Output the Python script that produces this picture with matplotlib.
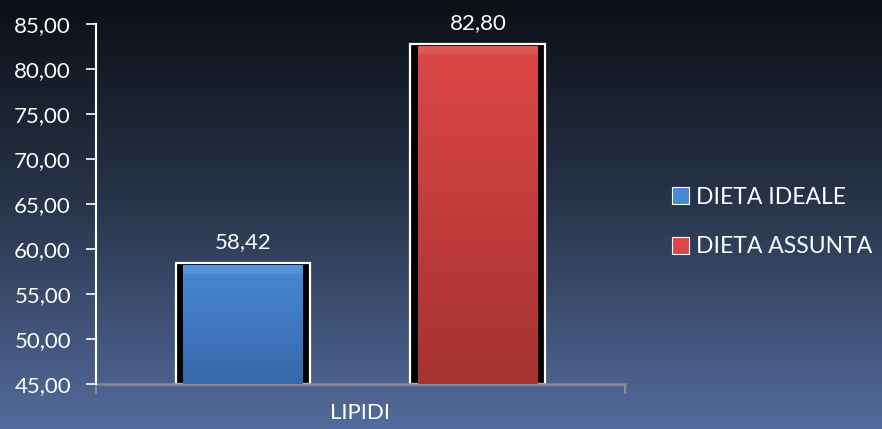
import numpy as np
import matplotlib
matplotlib.use("Agg")
import matplotlib.pyplot as plt
from matplotlib.colors import LinearSegmentedColormap

# data
category = "LIPIDI"
series = ["DIETA IDEALE", "DIETA ASSUNTA"]
values = [58.42, 82.80]
value_labels = ["58,42", "82,80"]
yticks = [45, 50, 55, 60, 65, 70, 75, 80, 85]
ytick_labels = ["45,00", "50,00", "55,00", "60,00", "65,00", "70,00", "75,00", "80,00", "85,00"]

face_top = ["#4787d6", "#dc4646"]
face_bot = ["#3768aa", "#a63331"]

plt.rcParams["font.family"] = ["Lato", "DejaVu Sans"]

fig = plt.figure(figsize=(8.82, 4.29), dpi=100)

# background gradient
bg = fig.add_axes([0, 0, 1, 1], zorder=-10)
bg_cmap = LinearSegmentedColormap.from_list(
    "bg", [(0.0, "#0c0f15"), (0.45, "#273247"), (1.0, "#536b9c")])
bg.imshow(np.linspace(0, 1, 256)[:, None], aspect="auto", cmap=bg_cmap,
          extent=[0, 1, 0, 1], origin="upper")
bg.axis("off")

ax = fig.add_axes([0.1088, 0.1049, 0.5998, 0.8391])
ax.patch.set_alpha(0)

offsets = [-0.222, 0.222]
outer_w = 0.255
inner_w = 0.226
base = yticks[0]

for i, (name, v) in enumerate(zip(series, values)):
    x = offsets[i]
    # white outline + black side bevel
    ax.bar(x, v - base, bottom=base, width=outer_w, color="black",
           edgecolor="white", linewidth=1.6, zorder=2)
    inner = ax.bar(x, v - base - 0.25, bottom=base, width=inner_w,
                   color=face_top[i], linewidth=0, zorder=3, label=name)[0]
    cmap = LinearSegmentedColormap.from_list("f%d" % i, [face_top[i], face_bot[i]])
    ax.imshow(np.linspace(0, 1, 128)[:, None], aspect="auto", cmap=cmap,
              extent=[inner.get_x(), inner.get_x() + inner.get_width(),
                      base, base + inner.get_height()],
              origin="upper", zorder=4)
    # lighter top bevel
    ax.bar(x, 0.9, bottom=v - 1.15, width=inner_w, color="white", alpha=0.10,
           linewidth=0, zorder=5)
    ax.text(x, v + 1.2, value_labels[i], ha="center", va="bottom",
            color="white", fontsize=16)

ax.set_xlim(-0.5, 0.5)
ax.set_ylim(45, 85)
ax.set_yticks(yticks)
ax.set_yticklabels(ytick_labels)
ax.set_xticks([-0.5, 0.5])
ax.set_xticklabels([])
ax.tick_params(axis="y", colors="white", labelsize=16, length=7, width=1.2, pad=11)
ax.tick_params(axis="x", colors="#8c8c8c", length=7, width=1.5)
ax.text(0, 42.9, category, ha="center", va="top", color="white", fontsize=16)

for s in ["top", "right"]:
    ax.spines[s].set_visible(False)
ax.spines["left"].set_color("white")
ax.spines["left"].set_linewidth(1.5)
ax.spines["bottom"].set_color("#8c8c8c")
ax.spines["bottom"].set_linewidth(1.8)
ax.spines["left"].set_zorder(6)

leg = ax.legend(loc="center left", bbox_to_anchor=(1.05, 0.45), frameon=False,
                fontsize=16.5, handlelength=0.75, handleheight=0.75,
                labelspacing=1.25, handletextpad=0.3, labelcolor="white")
for h in leg.legend_handles:
    h.set_edgecolor("white")
    h.set_linewidth(0.8)

fig.savefig("out.png", dpi=100)
